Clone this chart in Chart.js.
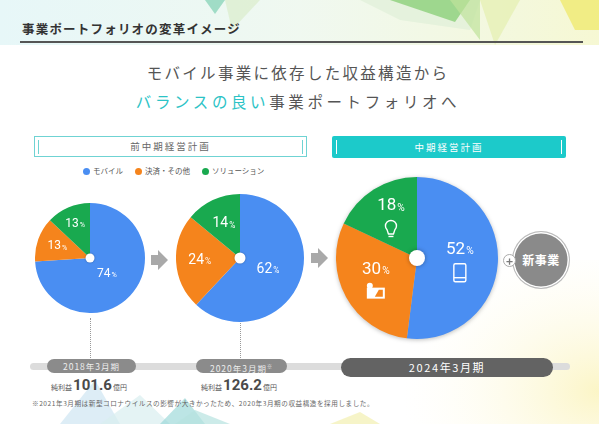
<!DOCTYPE html>
<html lang="ja">
<head>
<meta charset="utf-8">
<script src="https://cdn.jsdelivr.net/npm/chart.js@4"></script>
<style>
  html, body { margin: 0; padding: 0; background: #fff; }
  #page { position: relative; width: 599px; height: 424px; overflow: hidden; background: #fff;
          font-family: "Noto Sans CJK JP", "Noto Sans", sans-serif; color: #555; }
  .abs { position: absolute; }
  #title { left: 22px; top: 19px; font-size: 12.5px; font-weight: 700; color: #333; letter-spacing: 1.2px; }
  #rule { left: 20px; top: 41px; width: 563px; height: 1.5px; background: #555; }
  .head { left: 0; width: 596px; text-align: center; font-size: 15.5px; color: #555; }
  #h1 { top: 61px; letter-spacing: 2.3px; }
  #h2 { top: 90px; letter-spacing: 3.6px; }
  #h2 span { color: #2cc3c6; }
  .box { top: 136px; height: 21px; line-height: 21px; text-align: center; font-size: 9.5px; letter-spacing: 2px; box-sizing: border-box; }
  #box1 { left: 34px; width: 273px; border: 1px solid #6fd3d3; color: #666; line-height: 19px; }
  #box2 { left: 332px; width: 234px; height: 22px; line-height: 22px; background: #1ccaca; color: #fff; border-radius: 2px; }
  .tick { position: absolute; top: 3px; width: 1px; height: 14px; background: #6fd3d3; }
  #box2 .tick { background: #fff; top: 4px; }
  #legend { left: 83px; top: 165px; font-size: 7.5px; color: #555; white-space: nowrap; }
  #legend i { display: inline-block; width: 7px; height: 7px; border-radius: 50%; vertical-align: -1px; margin-right: 3px; }
  #legend b { font-weight: 400; margin-right: 12px; }
  canvas.pie { position: absolute; }
  #bar { left: 30px; top: 363px; width: 540px; height: 7px; border-radius: 4px; background: #dcdcdc; }
  .pill { height: 14px; line-height: 14px; top: 359px; background: #8b8b8b; color: #eee; font-size: 8.5px;
          text-align: center; letter-spacing: 1px; border-radius: 7px; }
  #pill3 { top: 358px; height: 19px; line-height: 19px; background: #636363; color: #fff; font-size: 11px; letter-spacing: 1.6px; border-radius: 10px; }
  .income { top: 376px; width: 120px; text-align: center; color: #555; font-size: 7px; white-space: nowrap; }
  .income b { font-family: "Liberation Sans Narrow", "Roboto", sans-serif; font-size: 15px; font-weight: 700; color: #4a4a4a; margin: 0 1px; }
  #note { left: 32px; top: 398px; font-size: 6.6px; color: #666; letter-spacing: 0.55px; white-space: nowrap; }
  .dots { width: 0; border-left: 1px dotted #999; }
  #newbiz { left: 513px; top: 232px; width: 56px; height: 56px; border-radius: 50%; background: #8a8a8a;
            box-shadow: 0 0 0 1.5px #fff inset, 0 0 0 1px #bbb; color: #fff; font-weight: 700; font-size: 12px;
            text-align: center; line-height: 56px; letter-spacing: 0.5px; }
  #plus { left: 503px; top: 254px; width: 13px; height: 13px; border-radius: 50%; background: #fff; border: 1px solid #aaa;
          color: #7a7a7a; font-size: 12px; font-weight: 700; line-height: 11px; text-align: center; box-sizing: border-box; }
</style>
</head>
<body>
<div id="page">
  <svg class="abs" style="left:0;top:0" width="599" height="424">
    <defs>
      <linearGradient id="gTop" x1="0" y1="0" x2="1" y2="0">
        <stop offset="0" stop-color="#cfeff1" stop-opacity="0.5"/>
        <stop offset="0.5" stop-color="#e6f4e6" stop-opacity="0.6"/>
        <stop offset="1" stop-color="#f4f6c8" stop-opacity="0.8"/>
      </linearGradient>
      <radialGradient id="gYel" cx="1" cy="0.8" r="0.9">
        <stop offset="0" stop-color="#fbf4c0" stop-opacity="0.9"/>
        <stop offset="1" stop-color="#fffdf0" stop-opacity="0"/>
      </radialGradient>
    </defs>
    <rect x="0" y="0" width="599" height="45" fill="url(#gTop)"/>
    <polygon points="205,0 225,0 215,14" fill="#6cc9a8" opacity="0.6"/>
    <polygon points="225,0 260,0 232,30" fill="#d7ebc4" opacity="0.6"/>
    <polygon points="360,0 480,0 470,30 400,20" fill="#dff0d8" opacity="0.7"/>
    <polygon points="390,0 470,0 455,22" fill="#8ccf7a" opacity="0.8"/>
    <polygon points="450,0 480,0 480,40" fill="#bfe39b" opacity="0.7"/>
    <polygon points="480,0 520,0 495,45" fill="#e6f0b5" opacity="0.8"/>
    <polygon points="560,0 599,0 599,30 575,30" fill="#f0ea70" opacity="0.8"/>
    <rect x="380" y="260" width="219" height="164" fill="url(#gYel)"/>
    <polygon points="60,424 95,380 120,424" fill="#cfe6f2" opacity="0.7"/>
    <polygon points="100,424 140,395 170,424" fill="#d9eef0" opacity="0.7"/>
    <polygon points="160,424 185,398 205,424" fill="#8fd3d3" opacity="0.6"/>
    <polygon points="175,424 195,410 230,424" fill="#b7e3e0" opacity="0.7"/>
    <polygon points="330,424 360,412 380,424" fill="#f2efb0" opacity="0.7"/>
  </svg>

  <div id="title" class="abs">事業ポートフォリオの変革イメージ</div>
  <div id="rule" class="abs"></div>
  <div id="h1" class="abs head">モバイル事業に依存した収益構造から</div>
  <div id="h2" class="abs head"><span>バランスの良い</span>事業ポートフォリオへ</div>

  <div id="box1" class="abs box"><div class="tick" style="left:3px"></div>前中期経営計画<div class="tick" style="right:3px"></div></div>
  <div id="box2" class="abs box"><div class="tick" style="left:4px"></div>中期経営計画<div class="tick" style="right:4px"></div></div>
  <div id="legend" class="abs"></div>

  <svg class="abs" style="left:0;top:0" width="599" height="424">
    <polygon points="151,255 158,255 158,250 168,260 158,270 158,265 151,265" fill="#a9a9a9"/>
    <polygon points="311,253 318,253 318,248 328,258 318,268 318,263 311,263" fill="#a9a9a9"/>
  </svg>

  <canvas id="pie1" class="pie"></canvas>
  <canvas id="pie2" class="pie"></canvas>
  <canvas id="pie3" class="pie"></canvas>

  <div id="newbiz" class="abs">新事業</div>
  <div id="plus" class="abs">+</div>

  <div class="abs dots" style="left:90px;top:318px;height:40px"></div>
  <div class="abs dots" style="left:240px;top:323px;height:35px"></div>
  <div id="bar" class="abs"></div>
  <div id="pill1" class="abs pill" style="left:47px;width:89px"></div>
  <div id="pill2" class="abs pill" style="left:196px;width:91px"></div>
  <div id="pill3" class="abs pill" style="left:341px;width:212px"></div>
  <div id="inc1" class="abs income" style="left:29px"></div>
  <div id="inc2" class="abs income" style="left:179px"></div>
  <div id="note" class="abs">※2021年3月期は新型コロナウイルスの影響が大きかったため、2020年3月期の収益構造を採用しました。</div>
</div>

<script>
// データ
const categories = ['モバイル', '決済・その他', 'ソリューション'];
const periods = ['2018年3月期', '2020年3月期', '2024年3月期'];
const share2018 = [74, 13, 13];
const share2020 = [62, 24, 14];
const share2024 = [52, 30, 18];
const netIncome = [101.6, 126.2];

const colors = ['#4a8ef2', '#f5841c', '#19a94f'];

// 凡例・期間ラベル
document.getElementById('legend').innerHTML = categories
  .map((c, i) => `<i style="background:${colors[i]}"></i><b>${c}</b>`).join('');
document.getElementById('pill1').textContent = periods[0];
document.getElementById('pill2').innerHTML = periods[1] + '<sup style="font-size:5px">※</sup>';
document.getElementById('pill3').textContent = periods[2];
document.getElementById('inc1').innerHTML = '純利益<b>' + netIncome[0].toFixed(1) + '</b>億円';
document.getElementById('inc2').innerHTML = '純利益<b>' + netIncome[1].toFixed(1) + '</b>億円';

// アイコン (中期経営計画の円のみ)
function drawIcon(ctx, kind, x, y) {
  ctx.save();
  ctx.strokeStyle = '#fff';
  ctx.fillStyle = '#fff';
  ctx.lineWidth = 1.4;
  if (kind === 'phone') {
    ctx.beginPath();
    ctx.roundRect(x - 6, y - 9, 12, 18, 1.5);
    ctx.stroke();
    ctx.beginPath();
    ctx.moveTo(x - 6, y + 5); ctx.lineTo(x + 6, y + 5);
    ctx.stroke();
  } else if (kind === 'wallet') {
    ctx.beginPath();
    ctx.rect(x - 9, y - 5, 18, 11);
    ctx.fill();
    ctx.fillStyle = '#f5841c';
    ctx.beginPath();
    ctx.moveTo(x - 1, y + 4); ctx.lineTo(x + 3, y - 3); ctx.lineTo(x + 7, y - 3); ctx.lineTo(x + 7, y + 4);
    ctx.fill();
    ctx.fillStyle = '#fff';
    ctx.beginPath();
    ctx.arc(x - 6, y - 7, 3, 0, Math.PI * 2);
    ctx.fill();
  } else if (kind === 'bulb') {
    ctx.beginPath();
    ctx.arc(x, y - 3, 5.5, Math.PI * 0.75, Math.PI * 2.25);
    ctx.lineTo(x + 2.5, y + 5);
    ctx.lineTo(x - 2.5, y + 5);
    ctx.closePath();
    ctx.stroke();
    ctx.beginPath();
    ctx.moveTo(x - 2.5, y + 7.5); ctx.lineTo(x + 2.5, y + 7.5);
    ctx.stroke();
  }
  ctx.restore();
}

// スライス内ラベル + 中心の白丸
const sliceLabels = {
  id: 'sliceLabels',
  afterDatasetsDraw(chart, args, opts) {
    const ctx = chart.ctx;
    const meta = chart.getDatasetMeta(0);
    const values = chart.data.datasets[0].data;
    meta.data.forEach((arc, i) => {
      const p = arc.getProps(['x', 'y', 'startAngle', 'endAngle', 'outerRadius'], true);
      const mid = (p.startAngle + p.endAngle) / 2;
      const r = p.outerRadius * opts.radii[i];
      let cx = p.x + Math.cos(mid) * r;
      let cy = p.y + Math.sin(mid) * r;
      const hasIcon = opts.icons && opts.icons[i];
      const ty = hasIcon ? cy - 11 : cy;
      ctx.save();
      ctx.fillStyle = '#fff';
      ctx.textBaseline = 'middle';
      ctx.font = `${opts.size}px "Liberation Sans Narrow", Roboto, sans-serif`;
      const num = String(values[i]);
      const wn = ctx.measureText(num).width;
      ctx.font = `${opts.size * 0.6}px "Liberation Sans Narrow", Roboto, sans-serif`;
      const wp = ctx.measureText('%').width;
      const x0 = cx - (wn + wp + 1) / 2;
      ctx.font = `${opts.size}px "Liberation Sans Narrow", Roboto, sans-serif`;
      ctx.textAlign = 'left';
      ctx.fillText(num, x0, ty);
      ctx.font = `${opts.size * 0.6}px "Liberation Sans Narrow", Roboto, sans-serif`;
      ctx.fillText('%', x0 + wn + 1, ty + opts.size * 0.12);
      ctx.restore();
      if (hasIcon) drawIcon(ctx, opts.icons[i], cx, cy + 12);
    });
    const c = meta.data[0];
    ctx.save();
    ctx.shadowColor = 'rgba(0,0,0,0.35)';
    ctx.shadowBlur = opts.hole > 6 ? 4 : 2;
    ctx.fillStyle = '#fff';
    ctx.beginPath();
    ctx.arc(c.x, c.y, opts.hole, 0, Math.PI * 2);
    ctx.fill();
    ctx.restore();
  }
};

function makePie(id, values, cx, cy, radius, labelOpts) {
  const el = document.getElementById(id);
  el.width = radius * 2;
  el.height = radius * 2;
  el.style.left = (cx - radius) + 'px';
  el.style.top = (cy - radius) + 'px';
  if (labelOpts.shadow) el.style.filter = 'drop-shadow(0 1px 2px rgba(0,0,0,0.25))';
  return new Chart(el, {
    type: 'pie',
    data: {
      labels: categories,
      datasets: [{
        data: values,
        backgroundColor: colors,
        borderWidth: 0,
        hoverOffset: 0
      }]
    },
    options: {
      responsive: false,
      animation: false,
      events: [],
      layout: { padding: 0 },
      plugins: {
        legend: { display: false },
        tooltip: { enabled: false },
        sliceLabels: labelOpts
      }
    },
    plugins: [sliceLabels]
  });
}

makePie('pie1', share2018, 90, 258, 55, { size: 12, radii: [0.42, 0.63, 0.68], hole: 4.5 });
makePie('pie2', share2020, 240, 258, 64, { size: 14, radii: [0.47, 0.63, 0.59], hole: 5.5 });
makePie('pie3', share2024, 417, 258, 81, { size: 17, radii: [0.53, 0.58, 0.6], hole: 8,
  icons: ['phone', 'wallet', 'bulb'], shadow: true });
</script>
</body>
</html>
